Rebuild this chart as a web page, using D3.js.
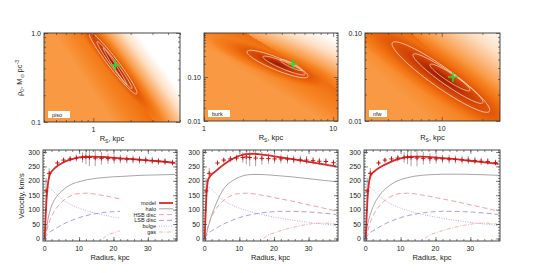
<!DOCTYPE html>
<html>
<head>
<meta charset="utf-8">
<script src="https://cdn.jsdelivr.net/npm/d3@7/dist/d3.min.js"></script>
<style>
  body { margin: 0; background: #fff; }
  svg { display: block; }
  text { font-family: "Liberation Sans", Arial, sans-serif; fill: #222; }
</style>
</head>
<body>
<script>
// ---- fit panels (top row) ----
const fitNames = ["piso", "burk", "nfw"];
const rsDomains = [[0.4, 5], [1, 10.9], [2.7, 27]];
const rhoDomains = [[0.1, 1], [0.01, 1], [0.01, 0.1]];
const rsMajor = [[1], [1, 10], [10]];
const rsMajorText = [["1"], ["1", "10"], ["10"]];
const rhoMajor = [[0.1, 1], [0.01, 0.1], [0.01, 0.1]];
const rhoMajorText = [["0.1", "1.0"], ["0.01", "0.10"], ["0.01", "0.10"]];
const bestRs = [1.50, 4.9, 12.1];
const bestRho = [0.436, 0.197, 0.0316];
// confidence contours: tip A, tip B (Rs, rho) and vertical half thickness (dex)
const contourTipA = [
  [[0.92, 1.00], [1.07, 0.79], [1.20, 0.68]],
  [[2.15, 0.37], [2.86, 0.285], [3.88, 0.243]],
  [[4.28, 0.075], [6.12, 0.056], [8.17, 0.0433]]
];
const contourTipB = [
  [[2.25, 0.212], [2.05, 0.241], [1.87, 0.261]],
  [[6.4, 0.105], [6.07, 0.117], [5.75, 0.144]],
  [[22.7, 0.0133], [20.2, 0.0164], [16.2, 0.0225]]
];
const contourHalf = [[0.09, 0.055, 0.03], [0.15, 0.09, 0.055], [0.14, 0.09, 0.055]];
// chi-square surface shape: edge slope (dex/dex), edge offset above best fit (dex)
const edgeSlope = [-2.1, -1.8, -1.36];
const edgeOffset = [0.02, 0.05, 0.08];
const whiteWidth = [0.45, 0.55, 0.5];
const orangeWidth = [0.7, 0.9, 0.8];

// ---- rotation curves (bottom row) ----
const radiusGrid = [0, 0.5, 1, 1.5, 2, 3, 4, 5, 6, 8, 10, 12, 14, 16, 18, 20, 22, 25, 28, 31, 34, 38];
const bulgeVel = [0, 150, 178, 176, 170, 158, 146, 136, 128, 115, 105, 97, 90, 84, 79, 74, 70, 64, 59, 54, 50, 45];
const hsbVel = [0, 22, 45, 62, 76, 98, 114, 127, 137, 150, 156, 157, 155, 151, 147, 142, 137, 130, 122, 114, 106, 95];
const lsbVel = [0, 10, 18, 22, 26, 33, 40, 47, 53, 63, 72, 79, 84, 88, 91, 93, 94, 94, 93, 91, 88, 83];
const gasRadius = [17, 18, 20, 22, 25, 28, 31, 34, 36, 38];
const gasVel = [0, 10, 19, 27, 37, 45, 51, 53, 52, 49];
const haloVel = [
  [0, 30, 70, 95, 113, 137, 153, 165, 175, 189, 197, 203, 207, 210, 212, 214, 215, 217, 219, 220, 221, 222],
  [0, 15, 40, 60, 80, 112, 140, 163, 180, 200, 213, 220, 222, 222, 221, 219, 217, 214, 210, 206, 202, 197],
  [0, 45, 70, 90, 107, 132, 150, 165, 176, 193, 204, 211, 216, 219, 221, 222, 223, 223, 223, 222, 221, 219]
];
const modelVel = [
  [0, 130, 195, 222, 232, 245, 254, 261, 267, 275, 281, 283, 284, 283, 282, 280, 278, 276, 273, 270, 267, 262],
  [0, 150, 205, 215, 222, 232, 242, 252, 261, 276, 287, 293, 294, 292, 289, 285, 281, 276, 270, 264, 258, 250],
  [0, 135, 200, 220, 228, 238, 246, 253, 259, 270, 278, 282, 284, 284, 283, 281, 279, 276, 272, 268, 264, 259]
];
const obsRadius = [0.4, 1.3, 3.7, 5.5, 7.4, 9.2, 11.0, 12.0, 13.0, 14.7, 16.5, 18.4, 20.2, 22.0, 23.9, 25.7, 27.6, 29.4, 31.3, 33.1, 35.0, 37.2];
const obsVel = [165, 226, 262, 272, 276, 279, 281, 283, 281, 279, 278, 277, 276, 276, 275, 274, 273, 272, 270, 268, 267, 263];
const obsErr = [45, 18, 8, 8, 10, 12, 18, 25, 30, 28, 22, 18, 16, 15, 15, 14, 14, 14, 13, 13, 12, 10];
const velTicks = [0, 50, 100, 150, 200, 250, 300];
const radTicks = [0, 10, 20, 30];
const legendNames = ["model", "halo", "HSB disc", "LSB disc", "bulge", "gas"];

const W = 538, H = 273;
const svg = d3.select("body").append("svg").attr("width", W).attr("height", H);

const topBoxes = [[44, 180, 33, 122], [204, 338, 33, 121], [365, 500, 33, 121]];
const botBoxes = [[43, 177, 150, 241], [203, 338, 150, 241], [364, 500, 150, 241]];

const colorMap = d3.scaleLinear()
  .domain([0, 0.07, 0.12, 0.2, 0.28, 0.36, 0.44, 0.55, 0.75, 1])
  .range(["#961800", "#b02800", "#c83a05", "#e05608", "#f07010", "#f68424", "#f99c48", "#fbb476", "#fde0c4", "#ffffff"])
  .clamp(true);

function inwardTicks(g, x, y, box, xvals, yvals, len) {
  const [x0, x1, y0, y1] = box;
  const parts = [
    [d3.axisBottom(x).tickValues(xvals), y1, "y"],
    [d3.axisTop(x).tickValues(xvals), y0, "y"],
    [d3.axisLeft(y).tickValues(yvals), x0, "x"],
    [d3.axisRight(y).tickValues(yvals), x1, "x"]
  ];
  parts.forEach(([ax, pos, dir]) => {
    const a = g.append("g")
      .attr("transform", dir == "y" ? "translate(0," + pos + ")" : "translate(" + pos + ",0)")
      .call(ax.tickSize(-len).tickFormat(""));
    a.select(".domain").remove();
    a.selectAll("line").attr("stroke", "#333").attr("stroke-width", 0.6);
  });
}

function frame(g, box) {
  g.append("rect").attr("x", box[0]).attr("y", box[2])
    .attr("width", box[1] - box[0]).attr("height", box[3] - box[2])
    .attr("fill", "none").attr("stroke", "#333").attr("stroke-width", 0.9);
}

// ---------- top row ----------
fitNames.forEach((name, p) => {
  const box = topBoxes[p];
  const [x0, x1, y0, y1] = box;
  const g = svg.append("g");
  const x = d3.scaleLog().domain(rsDomains[p]).range([x0, x1]);
  const y = d3.scaleLog().domain(rhoDomains[p]).range([y1, y0]);

  const u0 = Math.log10(bestRs[p]), v0 = Math.log10(bestRho[p]);
  const A = contourTipA[p][0], B = contourTipB[p][0];
  const cu = (Math.log10(A[0]) + Math.log10(B[0])) / 2, cv = (Math.log10(A[1]) + Math.log10(B[1])) / 2;
  const au = (Math.log10(B[0]) - Math.log10(A[0])) / 2, av = (Math.log10(B[1]) - Math.log10(A[1])) / 2;
  const hh = contourHalf[p][0];

  function level(u, v) {
    const dv = v - (v0 + edgeOffset[p] + edgeSlope[p] * (u - u0));
    let side;
    if (dv > 0) side = 0.5 + 0.5 * Math.pow(Math.min(1, dv / whiteWidth[p]), 0.6);
    else side = 0.27 + 0.16 * Math.min(1, -dv / orangeWidth[p]);
    const al = (u - cu) / au;
    const be = (v - cv - al * av) / hh;
    const r = Math.hypot(al, be);
    return Math.min(side, 0.2 * Math.pow(r, 0.8));
  }

  const w = x1 - x0, h = y1 - y0;
  const canvas = document.createElement("canvas");
  canvas.width = w; canvas.height = h;
  const ctx = canvas.getContext("2d");
  const img = ctx.createImageData(w, h);
  for (let j = 0; j < h; j++) {
    for (let i = 0; i < w; i++) {
      const u = Math.log10(x.invert(x0 + i + 0.5));
      const v = Math.log10(y.invert(y0 + j + 0.5));
      const c = d3.rgb(colorMap(level(u, v)));
      const k = (j * w + i) * 4;
      img.data[k] = c.r; img.data[k + 1] = c.g; img.data[k + 2] = c.b; img.data[k + 3] = 255;
    }
  }
  ctx.putImageData(img, 0, 0);
  g.append("image").attr("x", x0).attr("y", y0).attr("width", w).attr("height", h)
    .attr("preserveAspectRatio", "none").attr("href", canvas.toDataURL());

  const clipId = "clipTop" + p;
  g.append("clipPath").attr("id", clipId).append("rect")
    .attr("x", x0).attr("y", y0).attr("width", w).attr("height", h);

  const line = d3.line().x(d => x(d[0])).y(d => y(d[1]));
  contourTipA[p].forEach((ta, k) => {
    const tb = contourTipB[p][k];
    const cu2 = (Math.log10(ta[0]) + Math.log10(tb[0])) / 2, cv2 = (Math.log10(ta[1]) + Math.log10(tb[1])) / 2;
    const au2 = (Math.log10(tb[0]) - Math.log10(ta[0])) / 2, av2 = (Math.log10(tb[1]) - Math.log10(ta[1])) / 2;
    const pts = d3.range(0, 2 * Math.PI + 0.01, 0.05).map(t => [
      Math.pow(10, cu2 + au2 * Math.cos(t)),
      Math.pow(10, cv2 + av2 * Math.cos(t) + contourHalf[p][k] * Math.sin(t))
    ]);
    g.append("path").attr("clip-path", "url(#" + clipId + ")")
      .attr("d", line(pts)).attr("fill", "none")
      .attr("stroke", "#fbe6d6").attr("stroke-width", 0.7);
  });

  const bx = x(bestRs[p]), by = y(bestRho[p]);
  g.append("path").attr("d", `M${bx - 5},${by}H${bx + 5}M${bx},${by - 5}V${by + 5}`)
    .attr("stroke", "#33d633").attr("stroke-width", 1.5);

  g.append("rect").attr("x", x0 + 4).attr("y", y1 - 11).attr("width", name.length * 4 + 6).attr("height", 7)
    .attr("fill", "#fff");
  g.append("text").attr("x", x0 + 8).attr("y", y1 - 5.5).attr("font-size", 5.5).text(name);

  frame(g, box);
  const minorX = x.ticks().filter(d => !rsMajor[p].some(m => Math.abs(m - d) < 1e-9));
  const minorY = y.ticks().filter(d => !rhoMajor[p].some(m => Math.abs(m - d) < 1e-9));
  inwardTicks(g, x, y, box, minorX, minorY, 2);
  inwardTicks(g, x, y, box, rsMajor[p], rhoMajor[p], 4);

  rsMajor[p].forEach((d, i) => {
    g.append("text").attr("x", x(d)).attr("y", y1 + 9.5).attr("text-anchor", "middle")
      .attr("font-size", 7).text(rsMajorText[p][i]);
  });
  rhoMajor[p].forEach((d, i) => {
    g.append("text").attr("x", x0 - 3).attr("y", y(d) + 2.5).attr("text-anchor", "end")
      .attr("font-size", 7).text(rhoMajorText[p][i]);
  });
  const xl = g.append("text").attr("x", (x0 + x1) / 2).attr("y", y1 + 19).attr("text-anchor", "middle")
    .attr("font-size", 7.5);
  xl.append("tspan").text("R");
  xl.append("tspan").attr("font-size", 5).attr("dy", 1.5).text("S");
  xl.append("tspan").attr("dy", -1.5).text(", kpc");
});

const yl = svg.append("text").attr("transform", "translate(22,78) rotate(-90)")
  .attr("text-anchor", "middle").attr("font-size", 7.5);
yl.append("tspan").text("\u03c1");
yl.append("tspan").attr("font-size", 5).attr("dy", 1.5).text("0");
yl.append("tspan").attr("dy", -1.5).text(", M");
yl.append("tspan").attr("font-size", 5).attr("dy", 1.5).text("\u2299");
yl.append("tspan").attr("dy", -1.5).text(" pc");
yl.append("tspan").attr("font-size", 5).attr("dy", -3).text("-3");

// ---------- bottom row ----------
const compStyles = [
  { color: "#d42a2a", width: 1.8, dash: null },
  { color: "#808080", width: 0.7, dash: null },
  { color: "#f08a8a", width: 0.8, dash: "5,3" },
  { color: "#8c8cd6", width: 0.8, dash: "5,3" },
  { color: "#a87cc8", width: 0.8, dash: "0.8,1.6" },
  { color: "#f0a0a0", width: 0.8, dash: "4,1.5,1,1.5" }
];

botBoxes.forEach((box, p) => {
  const [x0, x1, y0, y1] = box;
  const g = svg.append("g");
  const x = d3.scaleLinear().domain([-0.5, 38.5]).range([x0, x1]);
  const y = d3.scaleLinear().domain([-9, 307]).range([y1, y0]);
  const clipId = "clipBot" + p;
  g.append("clipPath").attr("id", clipId).append("rect")
    .attr("x", x0).attr("y", y0).attr("width", x1 - x0).attr("height", y1 - y0);
  const cg = g.append("g").attr("clip-path", "url(#" + clipId + ")");

  const line = d3.line().x(d => x(d[0])).y(d => y(d[1])).curve(d3.curveMonotoneX);
  const series = [
    [radiusGrid, haloVel[p], 1],
    [radiusGrid, hsbVel, 2],
    [radiusGrid, lsbVel, 3],
    [radiusGrid, bulgeVel, 4],
    [gasRadius, gasVel, 5]
  ];
  series.forEach(([rr, vv, s]) => {
    const st = compStyles[s];
    cg.append("path").attr("d", line(rr.map((r, i) => [r, vv[i]])))
      .attr("fill", "none").attr("stroke", st.color).attr("stroke-width", st.width)
      .attr("stroke-dasharray", st.dash);
  });

  // observed points
  obsRadius.forEach((r, i) => {
    cg.append("line").attr("x1", x(r)).attr("x2", x(r))
      .attr("y1", y(obsVel[i] - obsErr[i])).attr("y2", y(obsVel[i] + obsErr[i]))
      .attr("stroke", "#666").attr("stroke-width", 0.6);
  });

  cg.append("path").attr("d", line(radiusGrid.map((r, i) => [r, modelVel[p][i]])))
    .attr("fill", "none").attr("stroke", compStyles[0].color).attr("stroke-width", compStyles[0].width);

  obsRadius.forEach((r, i) => {
    const px = x(r), py = y(obsVel[i]);
    cg.append("path").attr("d", `M${px - 2.2},${py}H${px + 2.2}M${px},${py - 2.2}V${py + 2.2}`)
      .attr("stroke", "#c81414").attr("stroke-width", 1);
  });

  if (p == 0) {
    const lg = g.append("g");
    lg.append("rect").attr("x", 120).attr("y", 198).attr("width", x1 - 121).attr("height", 38).attr("fill", "#fff");
    legendNames.forEach((n, i) => {
      const ly = 203 + i * 5.8;
      const st = compStyles[i];
      lg.append("text").attr("x", 156).attr("y", ly + 2).attr("text-anchor", "end")
        .attr("font-size", 5.5).text(n);
      lg.append("line").attr("x1", 159).attr("x2", 173).attr("y1", ly).attr("y2", ly)
        .attr("stroke", st.color).attr("stroke-width", st.width).attr("stroke-dasharray", st.dash);
    });
  }

  frame(g, box);
  inwardTicks(g, x, y, box, d3.range(0, 39, 2), d3.range(0, 310, 10), 2);
  inwardTicks(g, x, y, box, radTicks, velTicks, 4);

  radTicks.forEach(d => {
    g.append("text").attr("x", x(d)).attr("y", y1 + 9.5).attr("text-anchor", "middle")
      .attr("font-size", 7).text(d);
  });
  velTicks.forEach(d => {
    g.append("text").attr("x", x0 - 3).attr("y", y(d) + 2.5).attr("text-anchor", "end")
      .attr("font-size", 7).text(d);
  });
  g.append("text").attr("x", (x0 + x1) / 2).attr("y", y1 + 19).attr("text-anchor", "middle")
    .attr("font-size", 7.5).text("Radius, kpc");
});

svg.append("text").attr("transform", "translate(24,196) rotate(-90)")
  .attr("text-anchor", "middle").attr("font-size", 7.5).text("Velocity, km/s");
</script>
</body>
</html>
